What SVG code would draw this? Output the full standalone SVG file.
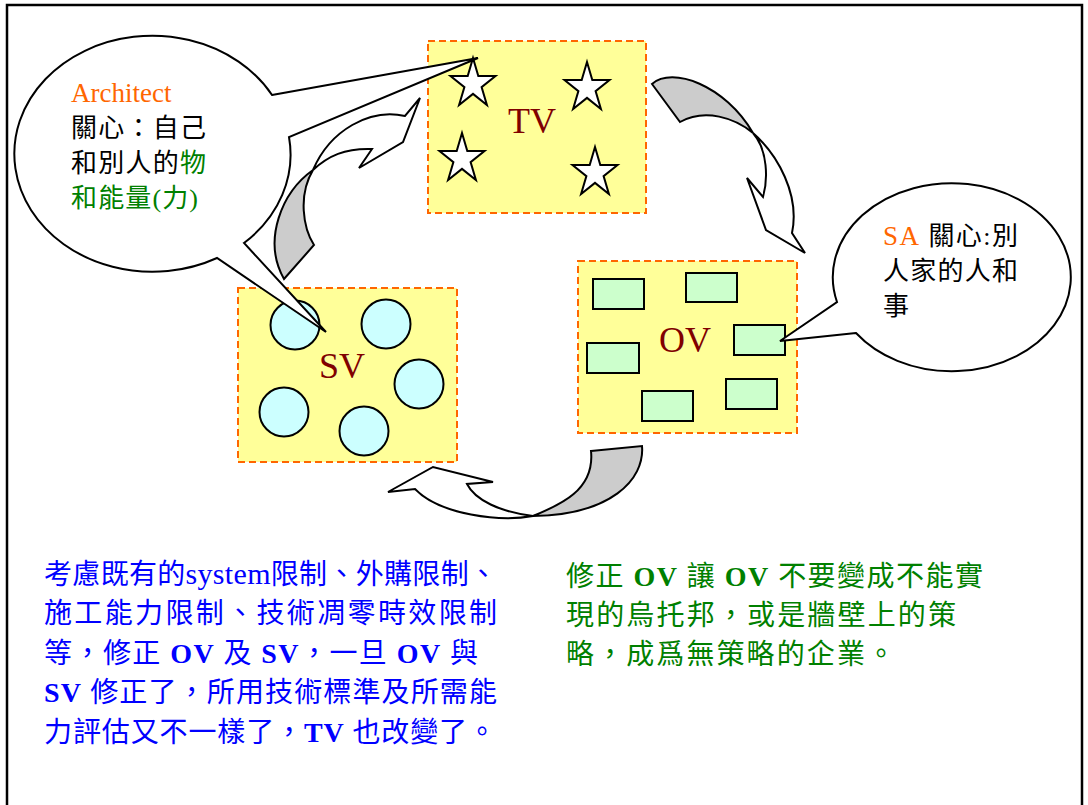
<svg xmlns="http://www.w3.org/2000/svg" xmlns:xlink="http://www.w3.org/1999/xlink" width="1088" height="805" viewBox="0 0 1088 805">
<style>
.box{fill:#FFFF99;stroke:#FF6600;stroke-width:2;stroke-dasharray:7 4}
.star{fill:#FFFFFF;stroke:#000;stroke-width:2;stroke-linejoin:miter}
.circ{fill:#CCFFFF;stroke:#000;stroke-width:2}
.rct{fill:#CCFFCC;stroke:#000;stroke-width:2}
.lbl{font-family:"Liberation Serif","Noto Sans CJK TC",serif;font-size:36px;fill:#800000;text-anchor:middle}
.call{fill:#FFFFFF;stroke:#000;stroke-width:2;stroke-linejoin:miter}
.ct{font-family:"Liberation Serif","Noto Sans CJK TC",serif;font-size:26px;fill:#000}
.para{font-family:"Liberation Serif","Noto Sans CJK TC",serif;font-size:28px}
.face{fill:#FFFFFF;stroke:#000;stroke-width:2;stroke-linejoin:miter}
.back{fill:#CCCCCC;stroke:#000;stroke-width:2;stroke-linejoin:miter}
.org{fill:#FF6600}
.grn{fill:#008000}
.blu{fill:#0000FF}
.b{font-weight:bold}
.lat{font-size:30px}
</style>
<defs>
<polygon id="star" points="0,-26 5.3,-8 22.5,-8 8.6,3.1 13.9,21 0,9.9 -13.9,21 -8.6,3.1 -22.5,-8 -5.3,-8"/>
</defs>
<rect x="7" y="5" width="1075" height="830" fill="#FFFFFF" stroke="#000" stroke-width="2.5"/>

<g id="tv">
<rect class="box" x="428" y="41" width="218" height="172"/>
<use href="#star" class="star" x="473" y="84"/>
<use href="#star" class="star" x="587" y="88"/>
<use href="#star" class="star" x="462" y="159"/>
<use href="#star" class="star" x="595" y="173"/>
<text class="lbl" x="532" y="133">TV</text>
</g>

<g id="ov">
<rect class="box" x="578" y="261" width="219" height="172"/>
<rect class="rct" x="593" y="279" width="51" height="30"/>
<rect class="rct" x="686" y="273" width="51" height="29"/>
<rect class="rct" x="734" y="325" width="51" height="30"/>
<rect class="rct" x="587" y="343" width="52" height="30"/>
<rect class="rct" x="642" y="391" width="51" height="30"/>
<rect class="rct" x="726" y="379" width="51" height="30"/>
<text class="lbl" x="685" y="352">OV</text>
</g>

<g id="sv">
<rect class="box" x="238" y="288" width="219" height="174"/>
<circle class="circ" cx="295" cy="325" r="24.5"/>
<circle class="circ" cx="386" cy="324" r="24.5"/>
<circle class="circ" cx="419" cy="384" r="24.5"/>
<circle class="circ" cx="284" cy="412" r="24.5"/>
<circle class="circ" cx="364" cy="431" r="24.5"/>
<text class="lbl" x="342" y="378">SV</text>
</g>

<g id="connectors">
<g id="arrow-sv-tv">
<path class="back" d="M284,279 L314,245 C303,228 298,195 313,170 C282,192 262,240 284,279 Z"/>
<path class="face" d="M313,170 C328,156 345,148 372,149 L359,168 L403,142 L420,98 L405,116 C370,108 330,130 313,170 Z"/>
</g>
<g id="arrow-tv-ov">
<path class="back" d="M652,84 C672,66 725,85 753,133 C735,118 705,108 680,122 Z"/>
<path class="face" d="M753,133 C778,155 800,195 792,233 L805,253 L766,230 L747,178 L763,197 C768,180 768,150 753,133 Z"/>
</g>
<g id="arrow-ov-sv">
<path class="back" d="M591,451 L642,446 C645,480 610,515 533,516 C560,505 595,490 591,451 Z"/>
<path class="face" d="M533,516 C500,522 440,515 415,489 L388,492 L433,467 L493,482 L467,484 C475,500 500,512 533,516 Z"/>
</g>
</g>

<g id="callout-architect">
<path class="call" d="M272,95 L478,58 L289,137 A138,118 0 0 1 244,243 L326,332 L217,258 A138,118 0 1 1 272,95 Z"/>
<text class="ct org" x="71" y="102" style="font-size:27px">Architect</text>
<text class="ct" x="71" y="137" textLength="135" lengthAdjust="spacing">關心：自己</text>
<text class="ct" x="71" y="172" textLength="135" lengthAdjust="spacing">和別人的<tspan class="grn">物</tspan></text>
<text class="ct grn" x="71" y="207" textLength="127" lengthAdjust="spacing">和能量(力)</text>
</g>

<g id="callout-sa">
<path class="call" d="M856,333 L780,341 L837,302 A119,94 0 1 1 856,333 Z"/>
<text class="ct" x="883" y="245" textLength="135" lengthAdjust="spacing"><tspan class="org" style="font-size:27px">SA</tspan> 關心:別</text>
<text class="ct" x="883" y="280" textLength="135" lengthAdjust="spacing">人家的人和</text>
<text class="ct" x="883" y="315">事</text>
</g>

<g id="note-blue" class="para blu">
<text x="44" y="584" textLength="453" lengthAdjust="spacing">考慮既有的<tspan class="lat">system</tspan>限制、外購限制、</text>
<text x="44" y="623" textLength="453" lengthAdjust="spacing">施工能力限制、技術凋零時效限制</text>
<text x="44" y="663" textLength="434" lengthAdjust="spacing">等，修正 <tspan class="b">OV</tspan> 及 <tspan class="b">SV</tspan>，一旦 <tspan class="b">OV</tspan> 與</text>
<text x="44" y="702" textLength="453" lengthAdjust="spacing"><tspan class="b">SV</tspan> 修正了，所用技術標準及所需能</text>
<text x="44" y="742" textLength="452" lengthAdjust="spacing">力評估又不一樣了，<tspan class="b">TV</tspan> 也改變了。</text>
</g>

<g id="note-green" class="para grn">
<text x="566" y="586" textLength="417" lengthAdjust="spacing">修正 <tspan class="b">OV</tspan> 讓 <tspan class="b">OV</tspan> 不要變成不能實</text>
<text x="566" y="625" textLength="390" lengthAdjust="spacing">現的烏托邦，或是牆壁上的策</text>
<text x="566" y="664" textLength="329" lengthAdjust="spacing">略，成爲無策略的企業。</text>
</g>
</svg>
